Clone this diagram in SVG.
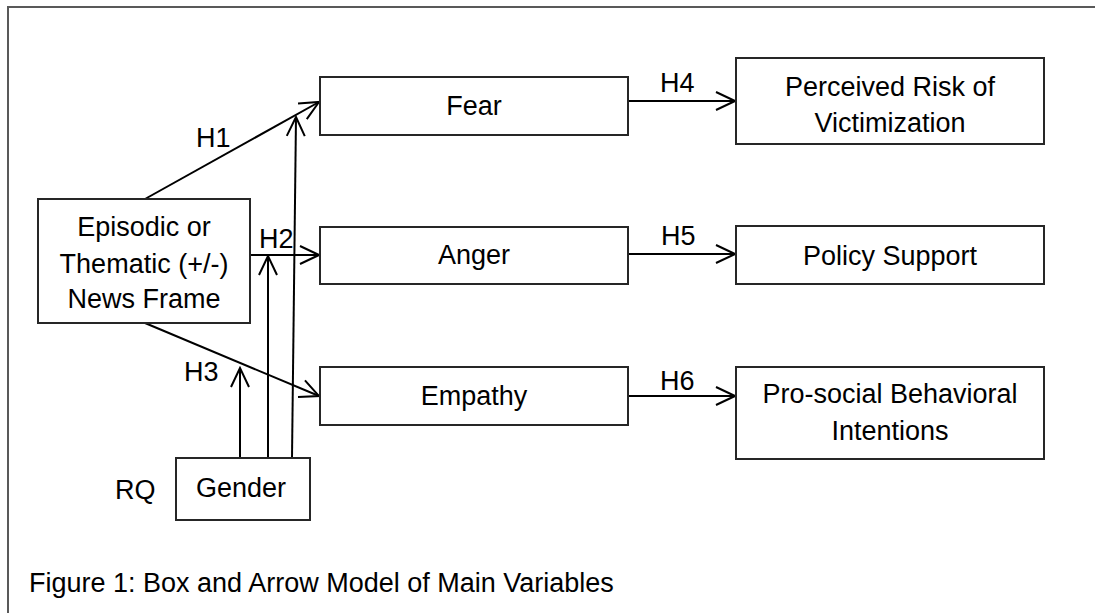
<svg xmlns="http://www.w3.org/2000/svg" width="1095" height="613" viewBox="0 0 1095 613">
<style>
.box{fill:#fff;stroke:#262626;stroke-width:2}
.t{font-family:"Liberation Sans",Arial,sans-serif;font-size:27px;fill:#000}
.c{text-anchor:middle}
.ln{stroke:#000;stroke-width:2;fill:none}
</style>
<defs>
<marker id="ah" markerUnits="userSpaceOnUse" markerWidth="24" markerHeight="24" viewBox="-22 -12 24 24" refX="0" refY="0" orient="auto">
<path d="M-19,-9 L0,0 L-19,9" fill="none" stroke="#000" stroke-width="2"/>
</marker>
</defs>
<rect width="1095" height="613" fill="#fff"/>
<path d="M8,613 L8,7 L1095,7" fill="none" stroke="#595959" stroke-width="2"/>
<g id="connectors">
<line class="ln" x1="145" y1="199" x2="319" y2="102" marker-end="url(#ah)"/>
<line class="ln" x1="292" y1="458" x2="296" y2="117" marker-end="url(#ah)"/>
<line class="ln" x1="250" y1="255" x2="319" y2="255" marker-end="url(#ah)"/>
<line class="ln" x1="268" y1="458" x2="268" y2="256" marker-end="url(#ah)"/>
<line class="ln" x1="145" y1="323" x2="319" y2="396" marker-end="url(#ah)"/>
<line class="ln" x1="240" y1="458" x2="240" y2="368" marker-end="url(#ah)"/>
<line class="ln" x1="628" y1="101" x2="735" y2="101" marker-end="url(#ah)"/>
<line class="ln" x1="628" y1="254" x2="735" y2="254" marker-end="url(#ah)"/>
<line class="ln" x1="628" y1="396" x2="735" y2="396" marker-end="url(#ah)"/>
<text class="t" x="196" y="147">H1</text>
<text class="t" x="259" y="248">H2</text>
<text class="t" x="184" y="381">H3</text>
<text class="t" x="660" y="92">H4</text>
<text class="t" x="661" y="245">H5</text>
<text class="t" x="660" y="390">H6</text>
</g>
<g id="frame">
<rect class="box" x="38" y="199" width="212" height="124"/>
<text class="t c" x="144" y="236">Episodic or</text>
<text class="t c" x="144" y="273">Thematic (+/-)</text>
<text class="t c" x="144" y="308">News Frame</text>
</g>
<g id="fear">
<rect class="box" x="320" y="77" width="308" height="58"/>
<text class="t c" x="474" y="115">Fear</text>
</g>
<g id="anger">
<rect class="box" x="320" y="227" width="308" height="57"/>
<text class="t c" x="474" y="264">Anger</text>
</g>
<g id="empathy">
<rect class="box" x="320" y="367" width="308" height="58"/>
<text class="t c" x="474" y="405">Empathy</text>
</g>
<g id="risk">
<rect class="box" x="736" y="58" width="308" height="86"/>
<text class="t c" x="890" y="96">Perceived Risk of</text>
<text class="t c" x="890" y="132">Victimization</text>
</g>
<g id="policy">
<rect class="box" x="736" y="226" width="308" height="58"/>
<text class="t c" x="890" y="265">Policy Support</text>
</g>
<g id="prosocial">
<rect class="box" x="736" y="367" width="308" height="92"/>
<text class="t c" x="890" y="403">Pro-social Behavioral</text>
<text class="t c" x="890" y="440">Intentions</text>
</g>
<g id="gender">
<rect class="box" x="176" y="458" width="134" height="62"/>
<text class="t c" x="241" y="497">Gender</text>
</g>
<g id="labels">
<text class="t" x="115" y="499">RQ</text>
<text class="t" x="29" y="592">Figure 1: Box and Arrow Model of Main Variables</text>
</g>
</svg>
